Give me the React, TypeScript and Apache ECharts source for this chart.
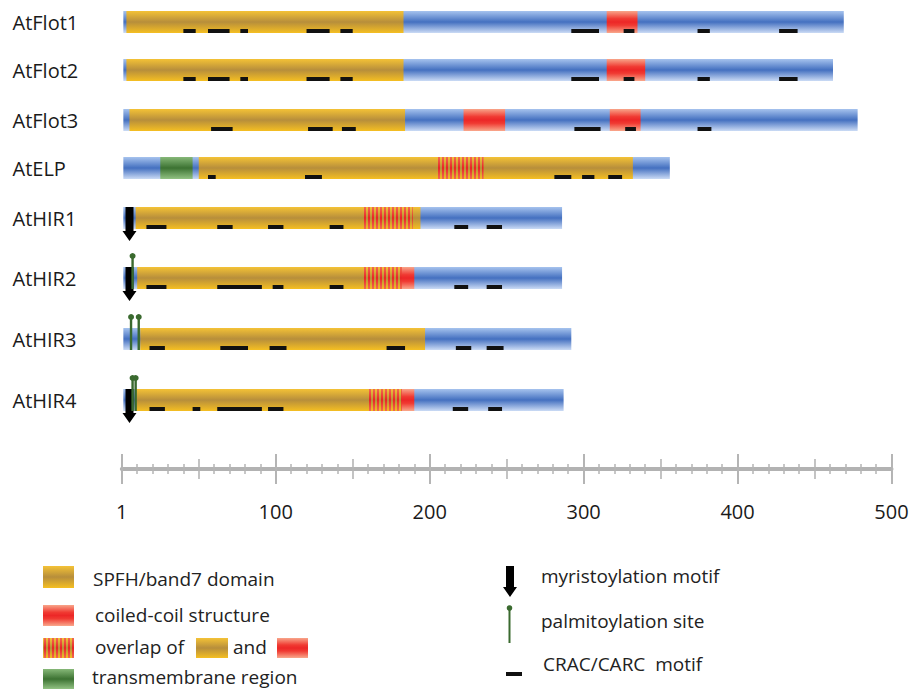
import React, { useEffect, useRef } from 'react';
import * as echarts from 'echarts';

// ---------------- data ----------------
const proteins = ['AtFlot1', 'AtFlot2', 'AtFlot3', 'AtELP', 'AtHIR1', 'AtHIR2', 'AtHIR3', 'AtHIR4'];
const proteinLengths = [469, 462, 478, 356, 286, 286, 292, 287];
// [row, start, end]
const spfhDomains = [
  [0, 3, 183], [1, 3, 183], [2, 5, 184], [3, 50, 332],
  [4, 9, 194], [5, 10, 182], [6, 12, 197], [7, 9, 183],
];
const coiledCoils = [
  [0, 315, 335], [1, 315, 340], [2, 222, 249], [2, 317, 337], [5, 182, 190], [7, 182, 190],
];
const overlaps = [[3, 205, 235], [4, 157, 189], [5, 157, 182], [7, 160, 182]];
const transmembrane = [[3, 25, 46]];
const cracMotifs = [
  [0, 40, 48], [0, 56, 70], [0, 77, 82], [0, 120, 135], [0, 142, 150], [0, 292, 310], [0, 326, 333], [0, 374, 382], [0, 427, 439],
  [1, 40, 48], [1, 56, 70], [1, 77, 82], [1, 120, 135], [1, 142, 150], [1, 292, 310], [1, 326, 333], [1, 374, 382], [1, 427, 439],
  [2, 58, 72], [2, 121, 137], [2, 143, 152], [2, 294, 311], [2, 327, 334], [2, 374, 383],
  [3, 56, 61], [3, 119, 130], [3, 281, 292], [3, 299, 307], [3, 316, 325],
  [4, 16, 29], [4, 62, 72], [4, 95, 105], [4, 135, 144], [4, 216, 225], [4, 237, 247],
  [5, 16, 29], [5, 62, 91], [5, 98, 105], [5, 135, 144], [5, 216, 225], [5, 237, 247],
  [6, 18, 28], [6, 64, 82], [6, 96, 107], [6, 172, 184], [6, 217, 227], [6, 237, 248],
  [7, 18, 28], [7, 46, 51], [7, 62, 91], [7, 95, 105], [7, 215, 225], [7, 238, 247],
];
// [row, position]
const myristoylation = [[4, 5], [5, 5], [7, 5]];
const palmitoylation = [[5, 7], [6, 6], [6, 11], [7, 7], [7, 9]];
const axisTickLabels = ['1', '100', '200', '300', '400', '500'];

// ---------------- layout ----------------
const ROW_Y = [22, 70, 120, 168, 218, 278, 339, 400];
const BAR_H = 22;
const AXIS_Y = 469;
const FONT = '"Open Sans", "Noto Sans", sans-serif';

const grad = (stops: [number, string][]) =>
  new echarts.graphic.LinearGradient(0, 0, 0, 1, stops.map(([offset, color]) => ({ offset, color })));
const blueGrad = () => grad([[0, '#a6c3ee'], [0.5, '#4470c0'], [1, '#cbdbf5']]);
const yellowGrad = () => grad([[0, '#f4c236'], [0.5, '#b78e3b'], [1, '#f5bf22']]);
const redGrad = () => grad([[0, '#f8a58a'], [0.35, '#f03a32'], [0.5, '#ec2727'], [0.65, '#f03a32'], [1, '#f9a88c']]);
const stripeRed = () => grad([[0, '#f26a50'], [0.5, '#e82424'], [1, '#f26a50']]);
const greenGrad = () => grad([[0, '#86b878'], [0.5, '#3c7232'], [1, '#92c283']]);

const stripeRects = (x0: number, x1: number, y: number, h: number) => {
  const out: any[] = [{ type: 'rect', shape: { x: x0, y, width: x1 - x0, height: h }, style: { fill: yellowGrad() } }];
  for (let x = Math.round(x0) + 1; x < x1 - 0.5; x += 4) {
    out.push({ type: 'rect', shape: { x, y, width: Math.min(2, x1 - x), height: h }, style: { fill: stripeRed() } });
  }
  return out;
};

const rectRender = (fillFn: () => any) => (params: any, api: any) => {
  const row = api.value(0);
  const [x0, yc] = api.coord([api.value(1), ROW_Y[row]]);
  const [x1] = api.coord([api.value(2), ROW_Y[row]]);
  return { type: 'rect', shape: { x: x0, y: yc - BAR_H / 2, width: x1 - x0, height: BAR_H }, style: { fill: fillFn() } };
};

const series: any[] = [];
const addSeries = (name: string, data: any[], renderItem: any, encode: any = { x: [1, 2], y: 0 }) =>
  series.push({
    type: 'custom', name, coordinateSystem: 'cartesian2d', xAxisIndex: 0, yAxisIndex: 0,
    silent: true, clip: false, encode, data, renderItem,
  });

addSeries('backbone', proteinLengths.map((len, i) => [i, 1, len]), rectRender(blueGrad));
addSeries('SPFH/band7 domain', spfhDomains, rectRender(yellowGrad));
addSeries('transmembrane region', transmembrane, rectRender(greenGrad));
addSeries('coiled-coil structure', coiledCoils, rectRender(redGrad));
addSeries('overlap', overlaps, (params: any, api: any) => {
  const row = api.value(0);
  const [x0, yc] = api.coord([api.value(1), ROW_Y[row]]);
  const [x1] = api.coord([api.value(2), ROW_Y[row]]);
  return { type: 'group', children: stripeRects(x0, x1, yc - BAR_H / 2, BAR_H) };
});
addSeries('CRAC/CARC motif', cracMotifs, (params: any, api: any) => {
  const row = api.value(0);
  const [x0, yc] = api.coord([api.value(1), ROW_Y[row]]);
  const [x1] = api.coord([api.value(2), ROW_Y[row]]);
  return { type: 'rect', shape: { x: x0, y: yc + BAR_H / 2 - 4, width: x1 - x0, height: 4 }, style: { fill: '#111' } };
});
addSeries('myristoylation motif', myristoylation, (params: any, api: any) => {
  const row = api.value(0);
  const [cx, yc] = api.coord([api.value(1), ROW_Y[row]]);
  const top = yc - BAR_H / 2;
  const bot = yc + BAR_H / 2 + 2;
  return {
    type: 'polygon',
    shape: { points: [[cx - 4, top], [cx + 4, top], [cx + 4, bot], [cx + 7, bot], [cx, bot + 10], [cx - 7, bot], [cx - 4, bot]] },
    style: { fill: '#000' },
  };
}, { x: 1, y: 0 });
addSeries('palmitoylation site', palmitoylation, (params: any, api: any) => {
  const row = api.value(0);
  const [cx, yc] = api.coord([api.value(1), ROW_Y[row]]);
  const top = yc - BAR_H / 2;
  const bot = yc + BAR_H / 2;
  return {
    type: 'group',
    children: [
      { type: 'line', shape: { x1: cx, y1: top - 11, x2: cx, y2: bot }, style: { stroke: '#3a6a2f', lineWidth: 2.4 } },
      { type: 'circle', shape: { cx, cy: top - 11, r: 3 }, style: { fill: '#3a6a2f' } },
    ],
  };
}, { x: 1, y: 0 });
addSeries('labels', proteins.map((_, i) => [i, 0]), (params: any, api: any) => {
  const row = api.value(0);
  const [, yc] = api.coord([0, ROW_Y[row]]);
  return {
    type: 'text', x: 12.5, y: yc,
    style: { text: proteins[row], font: `20px ${FONT}`, fill: '#1a1a1a', verticalAlign: 'middle', align: 'left' },
  };
}, { x: 1, y: 0 });

// ---------------- legend ----------------
const legendText = (text: string, x: number, y: number) => ({
  type: 'text', x, y, silent: true,
  style: { text, font: `19px ${FONT}`, fill: '#222', verticalAlign: 'middle', align: 'left' },
});
const legendGraphic: any[] = [
  { type: 'rect', shape: { x: 43, y: 566, width: 31, height: 22 }, style: { fill: yellowGrad() } },
  legendText('SPFH/band7 domain', 93, 579),
  { type: 'rect', shape: { x: 43, y: 605, width: 31, height: 21 }, style: { fill: redGrad() } },
  legendText('coiled-coil structure', 95, 615),
  { type: 'group', children: stripeRects(43, 74, 638, 20) },
  legendText('overlap of', 95, 647),
  { type: 'rect', shape: { x: 196, y: 638, width: 32, height: 20 }, style: { fill: yellowGrad() } },
  legendText('and', 233, 647),
  { type: 'rect', shape: { x: 277, y: 638, width: 31, height: 20 }, style: { fill: redGrad() } },
  { type: 'rect', shape: { x: 43, y: 669, width: 31, height: 20 }, style: { fill: greenGrad() } },
  legendText('transmembrane region', 92, 677),
  {
    type: 'polygon',
    shape: { points: [[506, 566], [514, 566], [514, 587], [517, 587], [510, 597], [503, 587], [506, 587]] },
    style: { fill: '#000' },
  },
  legendText('myristoylation motif', 541, 576),
  { type: 'line', shape: { x1: 509.5, y1: 608, x2: 509.5, y2: 643 }, style: { stroke: '#3a6a2f', lineWidth: 2 } },
  { type: 'circle', shape: { cx: 509.5, cy: 608, r: 2.8 }, style: { fill: '#3a6a2f' } },
  legendText('palmitoylation site', 541, 621),
  { type: 'rect', shape: { x: 506, y: 672, width: 16, height: 4 }, style: { fill: '#111' } },
  legendText('CRAC/CARC  motif', 543, 664),
];

// ---------------- axes ----------------
const baseX = {
  type: 'value', gridIndex: 0, min: 0, max: 500, position: 'bottom',
  splitLine: { show: false },
};
const xAxes = [
  {
    ...baseX, interval: 100,
    axisLine: { show: true, onZero: false, lineStyle: { color: '#b2b2b2', width: 4 } },
    axisTick: { show: true, length: 15, lineStyle: { color: '#b5b5b5', width: 2 } },
    axisLabel: {
      show: true, margin: 32, fontSize: 20, fontFamily: FONT, color: '#1a1a1a',
      formatter: (v: number) => axisTickLabels[Math.round(v / 100)],
    },
  },
  {
    ...baseX, interval: 100,
    axisLine: { show: false, onZero: false },
    axisTick: { show: true, inside: true, length: 15, lineStyle: { color: '#b5b5b5', width: 2 } },
    axisLabel: { show: false },
  },
  {
    ...baseX, interval: 50,
    axisLine: { show: false, onZero: false },
    axisTick: { show: true, length: 10, lineStyle: { color: '#b5b5b5', width: 1.6 } },
    minorTick: { show: true, splitNumber: 5, length: 5, lineStyle: { color: '#b5b5b5', width: 1.5 } },
    axisLabel: { show: false },
  },
  {
    ...baseX, interval: 50,
    axisLine: { show: false, onZero: false },
    axisTick: { show: true, inside: true, length: 10, lineStyle: { color: '#b5b5b5', width: 1.6 } },
    minorTick: { show: true, splitNumber: 5, length: 5, lineStyle: { color: '#b5b5b5', width: 1.5 } },
    axisLabel: { show: false },
  },
];

export default function App() {
  const ref = useRef<HTMLDivElement>(null);
  useEffect(() => {
    if (!ref.current) return;
    const chart = echarts.init(ref.current, undefined, { renderer: 'svg' });
    chart.setOption({
      animation: false,
      backgroundColor: '#ffffff',
      grid: { left: 121.8, top: 0, width: 769.7, height: AXIS_Y },
      xAxis: xAxes,
      yAxis: { type: 'value', min: 0, max: AXIS_Y, inverse: true, show: false, splitLine: { show: false } },
      series,
      graphic: legendGraphic,
    });
    return () => chart.dispose();
  }, []);
  return <div ref={ref} style={{ position: 'absolute', left: 0, top: 0, width: 912, height: 691 }} />;
}
